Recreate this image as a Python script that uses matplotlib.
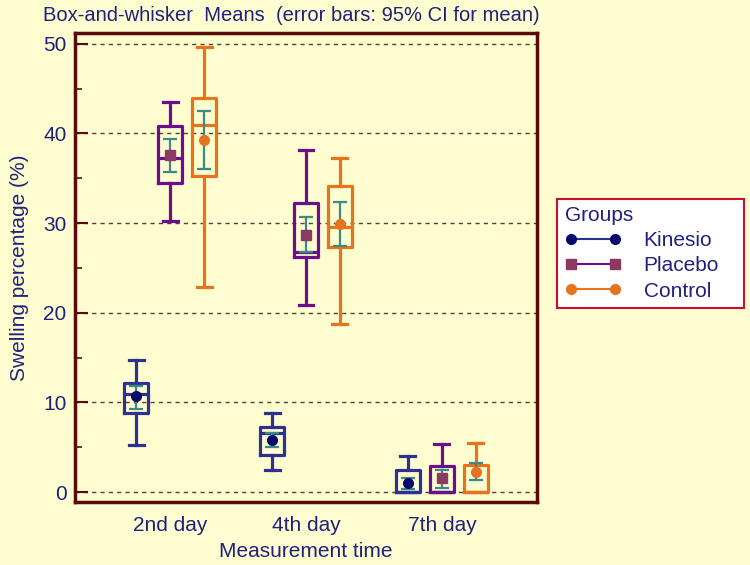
import matplotlib.pyplot as plt
from matplotlib.lines import Line2D
from matplotlib.ticker import MultipleLocator

plt.rcParams['font.family'] = ['Liberation Sans', 'DejaVu Sans']

# data
days = ['2nd day', '4th day', '7th day']
groups = ['Kinesio', 'Placebo', 'Control']

kinesio_whislo = [5.3, 2.5, 0.0]
kinesio_q1 = [8.8, 4.1, 0.0]
kinesio_med = [10.9, 6.6, 0.0]
kinesio_q3 = [12.2, 7.3, 2.5]
kinesio_whishi = [14.7, 8.8, 4.0]
kinesio_mean = [10.7, 5.8, 1.0]
kinesio_ci_lo = [9.3, 5.0, 0.3]
kinesio_ci_hi = [11.8, 6.6, 1.6]

placebo_whislo = [30.2, 20.9, 0.0]
placebo_q1 = [34.5, 26.2, 0.0]
placebo_med = [37.3, 26.8, 0.0]
placebo_q3 = [40.8, 32.2, 2.9]
placebo_whishi = [43.5, 38.2, 5.4]
placebo_mean = [37.6, 28.7, 1.6]
placebo_ci_lo = [35.7, 26.8, 0.5]
placebo_ci_hi = [39.4, 30.7, 2.5]

control_whislo = [22.9, 18.7, 0.0]
control_q1 = [35.3, 27.3, 0.0]
control_med = [40.9, 29.6, 0.0]
control_q3 = [44.0, 34.1, 3.0]
control_whishi = [49.6, 37.3, 5.5]
control_mean = [39.3, 29.9, 2.2]
control_ci_lo = [36.0, 27.4, 1.35]
control_ci_hi = [42.5, 32.4, 3.3]

bg = '#fdfdd0'
navy = '#20207f'
teal = '#3a8a88'
box_cols = ['#2e3192', '#6a0f8e', '#e8731d']
mark_cols = ['#0a0a6e', '#8b3a62', '#e8731d']
markers = ['o', 's', 'o']

series = [
    (kinesio_whislo, kinesio_q1, kinesio_med, kinesio_q3, kinesio_whishi,
     kinesio_mean, kinesio_ci_lo, kinesio_ci_hi),
    (placebo_whislo, placebo_q1, placebo_med, placebo_q3, placebo_whishi,
     placebo_mean, placebo_ci_lo, placebo_ci_hi),
    (control_whislo, control_q1, control_med, control_q3, control_whishi,
     control_mean, control_ci_lo, control_ci_hi),
]

fig = plt.figure(figsize=(7.5, 5.65), dpi=100, facecolor=bg)
ax = fig.add_axes([0.1, 0.1115, 0.616, 0.8301], facecolor=bg)

offsets = [-0.25, 0.0, 0.25]
for g, (wl, q1, med, q3, wh, mean, clo, chi) in enumerate(series):
    pos = [i + 1 + offsets[g] for i in range(len(days))]
    stats = [dict(whislo=wl[i], q1=q1[i], med=med[i], q3=q3[i], whishi=wh[i])
             for i in range(len(days))]
    c = box_cols[g]
    ax.bxp(stats, positions=pos, widths=0.18, showfliers=False,
           boxprops=dict(color=c, linewidth=2.3),
           whiskerprops=dict(color=c, linewidth=2.3),
           capprops=dict(color=c, linewidth=2.3),
           medianprops=dict(color=c, linewidth=2.3),
           capwidths=0.11, manage_ticks=False, zorder=3)
    yerr = [[mean[i] - clo[i] for i in range(len(days))],
            [chi[i] - mean[i] for i in range(len(days))]]
    ax.errorbar(pos, mean, yerr=yerr, fmt='none', ecolor=teal,
                elinewidth=1.6, capsize=5, capthick=1.6, zorder=4)
    ax.plot(pos, mean, linestyle='none', marker=markers[g],
            color=mark_cols[g], markersize=7, zorder=5)

ax.set_xlim(0.3, 3.7)
ax.set_ylim(-1.1, 51.2)
ax.set_xticks([1, 2, 3])
ax.set_xticklabels(days)
ax.yaxis.set_major_locator(MultipleLocator(10))
ax.yaxis.set_minor_locator(MultipleLocator(5))
ax.tick_params(axis='x', length=0, pad=10, labelsize=15, labelcolor=navy)
ax.tick_params(axis='y', which='major', direction='in', length=9, width=1.5,
               color='#5a0a0a', labelsize=15, labelcolor=navy, pad=6)
ax.tick_params(axis='y', which='minor', direction='in', length=5, width=1.2,
               color='#5a0a0a')
ax.grid(axis='y', which='major', linestyle=(0, (3, 3)), color='#5a3a3a',
        linewidth=1.0, zorder=0)
for s in ax.spines.values():
    s.set_color('#5a0a0a')
    s.set_linewidth(2.5)

ax.set_xlabel('Measurement time', fontsize=15, color=navy, labelpad=5)
ax.set_ylabel('Swelling percentage (%)', fontsize=15, color=navy, labelpad=10)
fig.text(0.057, 0.972, 'Box-and-whisker  Means  (error bars: 95% CI for mean)',
         fontsize=14.5, color=navy, ha='left', va='center')

handles = [Line2D([], [], color=box_cols[g], marker=markers[g],
                  markerfacecolor=mark_cols[g], markeredgecolor=mark_cols[g],
                  markersize=7, linewidth=1.5) for g in range(3)]
leg = fig.legend(handles, groups, title='Groups', numpoints=2,
                 loc='lower left', bbox_to_anchor=(0.743, 0.455, 0.249, 0.0),
                 mode='expand',
                 fontsize=15, title_fontsize=15, frameon=True, fancybox=False,
                 handlelength=2.7, borderpad=0.35, labelspacing=0.3,
                 handletextpad=1.1, borderaxespad=0)
leg.get_frame().set_edgecolor('#c8102e')
leg.get_frame().set_linewidth(1.5)
leg.get_frame().set_facecolor('white')
leg.get_frame().set_alpha(1)
leg._legend_box.align = 'left'
for t in leg.get_texts():
    t.set_color(navy)
leg.get_title().set_color(navy)

fig.savefig('out.png', dpi=100, facecolor=bg)
